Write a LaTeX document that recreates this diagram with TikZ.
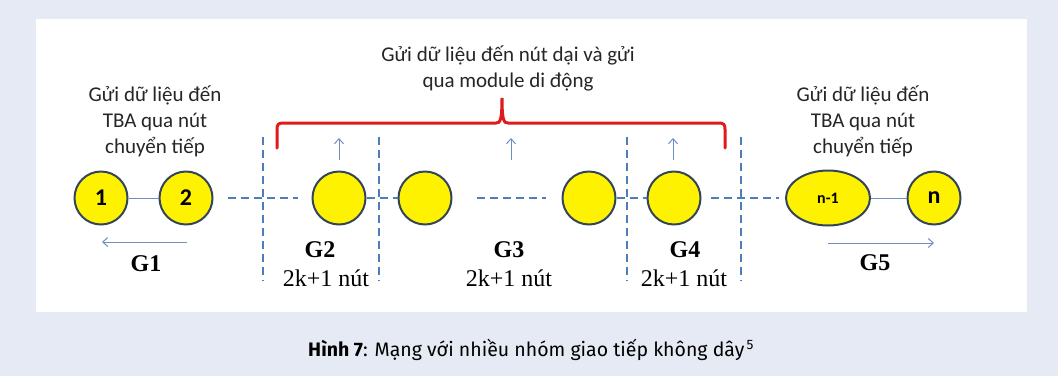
\documentclass[tikz,border=0pt]{standalone}
\usepackage{fontspec}
\setmainfont{Liberation Serif}
\newfontfamily\lblfont{Carlito}
\newfontfamily\capfont{Fira Sans}
\usetikzlibrary{arrows.meta,shapes.geometric}
\definecolor{bgc}{HTML}{E6EAF4}
\definecolor{nodeb}{HTML}{33455A}
\definecolor{linkc}{HTML}{4F7DBA}
\definecolor{thinc}{HTML}{6E8FC0}
\definecolor{bracec}{HTML}{E01B1B}
\tikzset{
  nd/.style={circle,draw=nodeb,line width=2pt,fill=yellow,minimum size=53pt,inner sep=0pt,font=\lblfont\bfseries\fontsize{24}{24}\selectfont},
  ell/.style={ellipse,draw=nodeb,line width=2pt,fill=yellow,minimum width=84pt,minimum height=55pt,inner sep=0pt,font=\lblfont\bfseries\fontsize{16}{16}\selectfont},
  dsh/.style={linkc,line width=2.2pt,dash pattern=on 8pt off 5pt},
  thin/.style={thinc,line width=1pt},
  arr/.style={thinc,line width=1pt,-{Straight Barb[length=5pt,width=9pt]}},
  note/.style={font=\lblfont\fontsize{21}{26}\selectfont,align=center,text=black!85},
  glab/.style={font=\bfseries\fontsize{24}{24}\selectfont},
  klab/.style={font=\fontsize{24}{24}\selectfont},
}
\begin{document}
\begin{tikzpicture}[x=1pt,y=-1pt]
\fill[bgc] (0,0) rectangle (1058,376);
\fill[white] (36,19) rectangle (1027,312);
\useasboundingbox (0,0) rectangle (1058,376);
% nodes
\node[nd] (n1) at (101,198) {1};
\node[nd] (n2) at (186,198) {2};
\node[nd] (a) at (339,198) {};
\node[nd] (b) at (425,198) {};
\node[nd] (c) at (589,198) {};
\node[nd] (d) at (674,198) {};
\node[ell] (e) at (828,198) {n-1};
\node[nd] (nn) at (934,198) {n};
% links
\draw[thin] (n1) -- (n2);
\draw[thin] (e) -- (nn);
\draw[dsh,shorten <=14pt,shorten >=14pt] (n2) -- (a);
\draw[dsh] (a) -- (b);
\coordinate (m1) at (477,198);
\coordinate (m2) at (546,198);
\draw[dsh] (m1) -- (m2);
\draw[dsh] (c) -- (d);
\draw[dsh,shorten <=9pt,shorten >=6pt] (d) -- (e);
% vertical separators
\foreach \x/\nm in {263/v1,379/v2,627/v3,741/v4}{
  \coordinate (\nm t) at (\x,137);
  \coordinate (\nm b) at (\x,281);
  \draw[dsh] (\nm t) -- (\nm b);
}
% up arrows
\foreach \x/\nm in {339/u1,511/u2,673/u3}{
  \coordinate (\nm b) at (\x,160);
  \coordinate (\nm t) at (\x,138);
  \draw[arr] (\nm b) -- (\nm t);
}
% brace
\draw[bracec,line width=3pt,line cap=round]
  (277,148) -- (277,129) .. controls (277,124.5) and (278.5,123) .. (283,123)
  -- (496,123) .. controls (500,123) and (502,121) .. (502,98)
  .. controls (502,121) and (504,123) .. (508,123)
  -- (719,123) .. controls (723.5,123) and (725,124.5) .. (725,129) -- (725,148);
% group arrows
\coordinate (g1s) at (187,242); \coordinate (g1e) at (102,242);
\draw[arr] (g1s) -- (g1e);
\coordinate (g5s) at (828,243); \coordinate (g5e) at (934,243);
\draw[arr] (g5s) -- (g5e);
% notes
\node[note] (tl) at (155,121) {Gửi dữ liệu đến\\TBA qua nút\\chuyển tiếp};
\node[note] (tr) at (863,121) {Gửi dữ liệu đến\\TBA qua nút\\chuyển tiếp};
\node[note] (tm) at (508,68) {Gửi dữ liệu đến nút dại và gửi\\qua module di động};
% group labels
\node[glab] (G1) at (146,264) {G1};
\node[glab] (G2) at (320,250) {G2};
\node[klab] (K2) at (326,278) {2k+1 nút};
\node[glab] (G3) at (509,250) {G3};
\node[klab] (K3) at (509,278) {2k+1 nút};
\node[glab] (G4) at (685,250) {G4};
\node[klab] (K4) at (684,278) {2k+1 nút};
\node[glab] (G5) at (875,263) {G5};
% caption
\node[font=\capfont\fontsize{19.5}{19.5}\selectfont] (cap) at (531,350) {\textbf{Hình 7}: Mạng với nhiều nhóm giao tiếp không dây\textsuperscript{\,5}};
\end{tikzpicture}
\end{document}
